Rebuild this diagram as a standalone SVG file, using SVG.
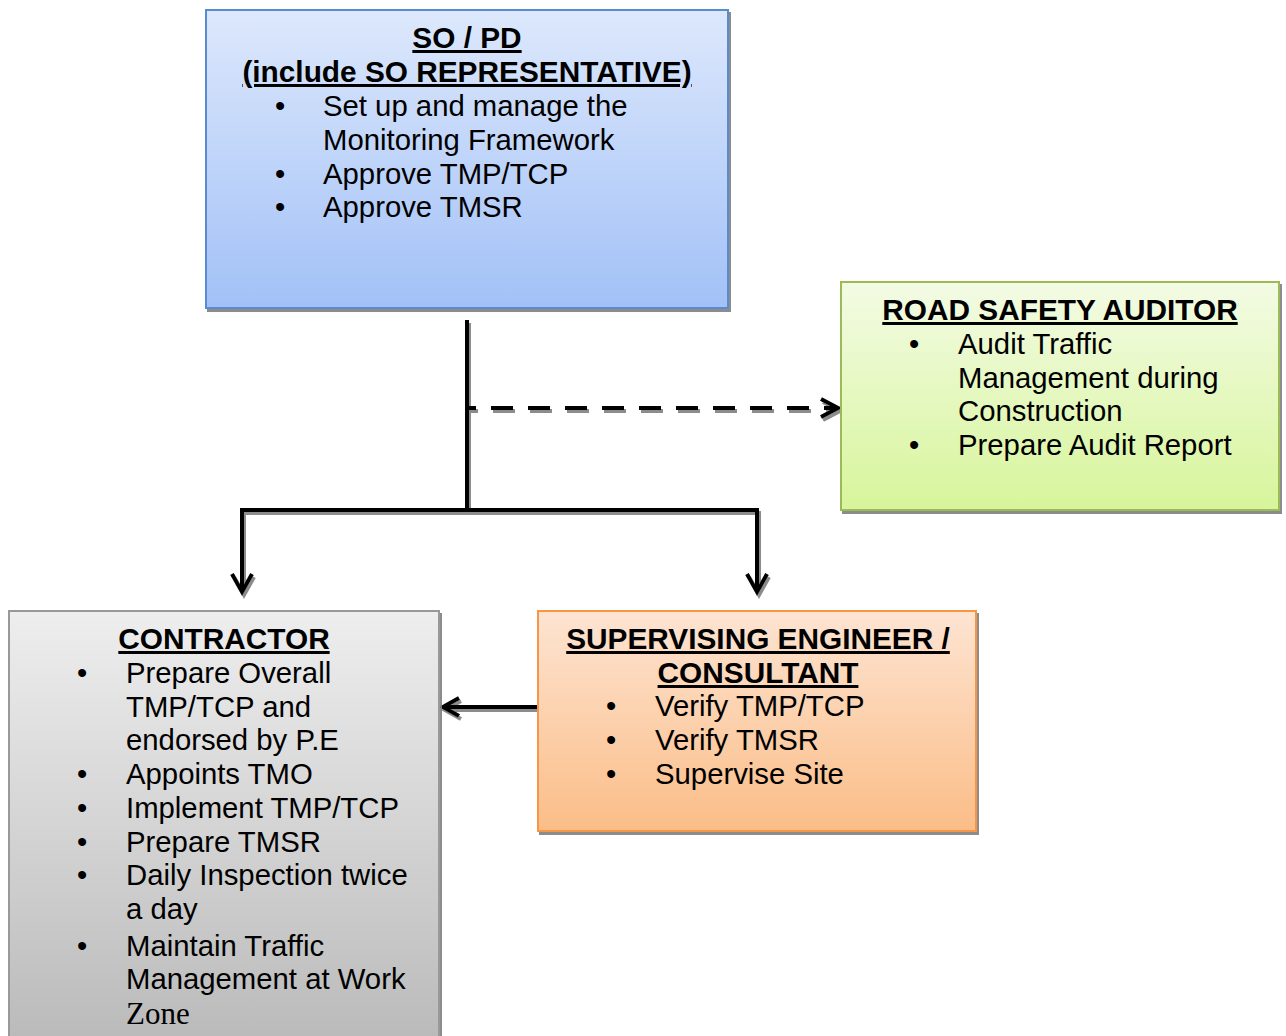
<svg xmlns="http://www.w3.org/2000/svg" width="1286" height="1036" viewBox="0 0 1286 1036">
  <style>
    text { font-family: "Liberation Sans", Arial, sans-serif; font-size: 29.3px; fill: #000; }
    .title { font-weight: bold; font-size: 29.8px; text-decoration: underline; text-anchor: middle; }
    .serif { font-family: "Liberation Serif", "Times New Roman", serif; font-size: 31px; }
    .box { stroke-width: 2; }
    .line { fill: none; stroke: #000; stroke-width: 4; }
  </style>
  <defs>
    <linearGradient id="gBlue" x1="0" y1="0" x2="0" y2="1">
      <stop offset="0" stop-color="#dde8fc"/>
      <stop offset="1" stop-color="#a2c1f7"/>
    </linearGradient>
    <linearGradient id="gGreen" x1="0" y1="0" x2="0" y2="1">
      <stop offset="0" stop-color="#f3fbe4"/>
      <stop offset="1" stop-color="#d7f59b"/>
    </linearGradient>
    <linearGradient id="gGray" x1="0" y1="0" x2="0" y2="1">
      <stop offset="0" stop-color="#eeeeee"/>
      <stop offset="1" stop-color="#b9b9b9"/>
    </linearGradient>
    <linearGradient id="gOrange" x1="0" y1="0" x2="0" y2="1">
      <stop offset="0" stop-color="#fde4d2"/>
      <stop offset="1" stop-color="#fbbd87"/>
    </linearGradient>
    <filter id="shadow" x="-5%" y="-5%" width="115%" height="115%">
      <feDropShadow dx="2" dy="3" stdDeviation="0.6" flood-color="#7f7f7f" flood-opacity="0.9"/>
    </filter>
  </defs>

  <!-- connectors -->
  <g id="connectors" filter="url(#shadow)">
    <path class="line" d="M467 320 V512"/>
    <path class="line" d="M240 510 H759"/>
    <path class="line" d="M242 508 V592"/>
    <path class="line" d="M232 574 L242 592 L252 574"/>
    <path class="line" d="M757 508 V592"/>
    <path class="line" d="M747 574 L757 592 L767 574"/>
    <path class="line" d="M469 408 H836" stroke-dasharray="22 15" stroke-dashoffset="15"/>
    <path class="line" d="M821 399 L838 408 L821 417"/>
    <path class="line" d="M538 707 H444"/>
    <path class="line" d="M459 698 L443 707 L459 716"/>
  </g>

  <!-- SO / PD -->
  <g id="so-pd">
    <rect class="box" x="206" y="10" width="522" height="298" fill="url(#gBlue)" stroke="#5a8ad0" filter="url(#shadow)"/>
    <text class="title" x="467" y="48">SO / PD</text>
    <text class="title" x="467" y="82">(include SO REPRESENTATIVE)</text>
    <text x="275" y="116">•</text><text x="323" y="116">Set up and manage the</text>
    <text x="323" y="150">Monitoring Framework</text>
    <text x="275" y="184">•</text><text x="323" y="184">Approve TMP/TCP</text>
    <text x="275" y="217">•</text><text x="323" y="217">Approve TMSR</text>
  </g>

  <!-- Road safety auditor -->
  <g id="road-safety-auditor">
    <rect class="box" x="841" y="282" width="438" height="228" fill="url(#gGreen)" stroke="#9bbb59" filter="url(#shadow)"/>
    <text class="title" x="1060" y="320">ROAD SAFETY AUDITOR</text>
    <text x="909" y="354">•</text><text x="958" y="354">Audit Traffic</text>
    <text x="958" y="388">Management during</text>
    <text x="958" y="421">Construction</text>
    <text x="909" y="455">•</text><text x="958" y="455">Prepare Audit Report</text>
  </g>

  <!-- Contractor -->
  <g id="contractor">
    <rect class="box" x="9" y="611" width="430" height="440" fill="url(#gGray)" stroke="#999999" filter="url(#shadow)"/>
    <text class="title" x="224" y="649">CONTRACTOR</text>
    <text x="77" y="683">•</text><text x="126" y="683">Prepare Overall</text>
    <text x="126" y="717">TMP/TCP and</text>
    <text x="126" y="750">endorsed by P.E</text>
    <text x="77" y="784">•</text><text x="126" y="784">Appoints TMO</text>
    <text x="77" y="818">•</text><text x="126" y="818">Implement TMP/TCP</text>
    <text x="77" y="852">•</text><text x="126" y="852">Prepare TMSR</text>
    <text x="77" y="885">•</text><text x="126" y="885">Daily Inspection twice</text>
    <text x="126" y="919">a day</text>
    <text x="77" y="956">•</text><text x="126" y="956">Maintain Traffic</text>
    <text x="126" y="989">Management at Work</text>
    <text class="serif" x="126" y="1024">Zone</text>
  </g>

  <!-- Supervising engineer / consultant -->
  <g id="supervising-engineer">
    <rect class="box" x="538" y="611" width="438" height="220" fill="url(#gOrange)" stroke="#f79646" filter="url(#shadow)"/>
    <text class="title" x="758" y="649">SUPERVISING ENGINEER /</text>
    <text class="title" x="758" y="683">CONSULTANT</text>
    <text x="606" y="716">•</text><text x="655" y="716">Verify TMP/TCP</text>
    <text x="606" y="750">•</text><text x="655" y="750">Verify TMSR</text>
    <text x="606" y="784">•</text><text x="655" y="784">Supervise Site</text>
  </g>
</svg>
